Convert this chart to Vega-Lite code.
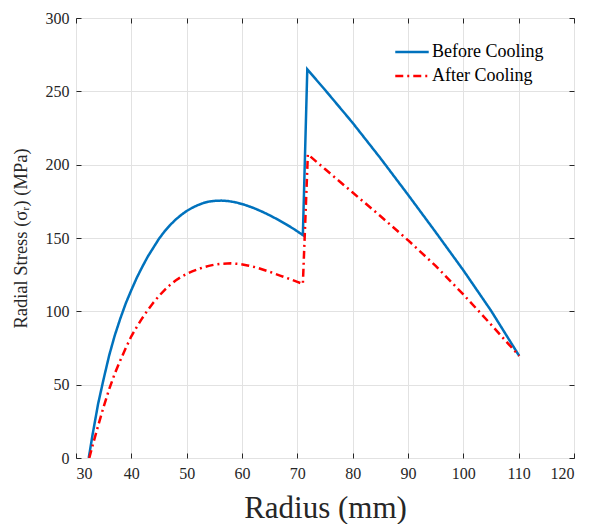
{
  "$schema": "https://vega.github.io/schema/vega-lite/v6.json",
  "autosize": {"type": "none"},
  "padding": {"left": 76, "top": 18, "right": 18, "bottom": 66},
  "width": 498,
  "height": 440,
  "background": "white",
  "config": {
    "font": "Liberation Serif",
    "view": {"stroke": "#262626", "strokeWidth": 1},
    "axis": {
      "labelFont": "Liberation Serif",
      "titleFont": "Liberation Serif",
      "labelColor": "#262626",
      "titleColor": "#262626",
      "labelFontSize": 16,
      "domain": false,
      "tickColor": "#262626",
      "tickSize": -5,
      "gridColor": "#e2e2e2",
      "gridWidth": 1,
      "titleFontWeight": "normal"
    }
  },
  "data": {
    "values": [
      {"r": 32.3, "s": 0, "series": "Before Cooling"},
      {"r": 33, "s": 16, "series": "Before Cooling"},
      {"r": 34, "s": 37, "series": "Before Cooling"},
      {"r": 35, "s": 54, "series": "Before Cooling"},
      {"r": 36, "s": 70, "series": "Before Cooling"},
      {"r": 37, "s": 83.5, "series": "Before Cooling"},
      {"r": 38, "s": 95, "series": "Before Cooling"},
      {"r": 39, "s": 105.5, "series": "Before Cooling"},
      {"r": 40, "s": 114.5, "series": "Before Cooling"},
      {"r": 41, "s": 123, "series": "Before Cooling"},
      {"r": 42, "s": 130.5, "series": "Before Cooling"},
      {"r": 43, "s": 137.5, "series": "Before Cooling"},
      {"r": 44, "s": 143.5, "series": "Before Cooling"},
      {"r": 45, "s": 149.5, "series": "Before Cooling"},
      {"r": 46, "s": 154.5, "series": "Before Cooling"},
      {"r": 47, "s": 158.8, "series": "Before Cooling"},
      {"r": 48, "s": 162.5, "series": "Before Cooling"},
      {"r": 49, "s": 165.7, "series": "Before Cooling"},
      {"r": 50, "s": 168.4, "series": "Before Cooling"},
      {"r": 51, "s": 170.6, "series": "Before Cooling"},
      {"r": 52, "s": 172.4, "series": "Before Cooling"},
      {"r": 53, "s": 173.8, "series": "Before Cooling"},
      {"r": 54, "s": 174.8, "series": "Before Cooling"},
      {"r": 55, "s": 175.3, "series": "Before Cooling"},
      {"r": 56.3, "s": 175.5, "series": "Before Cooling"},
      {"r": 57.5, "s": 175.2, "series": "Before Cooling"},
      {"r": 59, "s": 174.2, "series": "Before Cooling"},
      {"r": 60.5, "s": 172.6, "series": "Before Cooling"},
      {"r": 62, "s": 170.6, "series": "Before Cooling"},
      {"r": 63.5, "s": 168.2, "series": "Before Cooling"},
      {"r": 65, "s": 165.5, "series": "Before Cooling"},
      {"r": 66.5, "s": 162.5, "series": "Before Cooling"},
      {"r": 68, "s": 159.3, "series": "Before Cooling"},
      {"r": 69.5, "s": 155.8, "series": "Before Cooling"},
      {"r": 71.0, "s": 152, "series": "Before Cooling"},
      {"r": 71.8, "s": 265, "series": "Before Cooling"},
      {"r": 75, "s": 251, "series": "Before Cooling"},
      {"r": 80, "s": 228.5, "series": "Before Cooling"},
      {"r": 85, "s": 204.5, "series": "Before Cooling"},
      {"r": 90, "s": 179.5, "series": "Before Cooling"},
      {"r": 95, "s": 154, "series": "Before Cooling"},
      {"r": 100, "s": 128, "series": "Before Cooling"},
      {"r": 105, "s": 100.5, "series": "Before Cooling"},
      {"r": 110.1, "s": 69.6, "series": "Before Cooling"},
      {"r": 32.4, "s": 0, "series": "After Cooling"},
      {"r": 33, "s": 8.5, "series": "After Cooling"},
      {"r": 34, "s": 22, "series": "After Cooling"},
      {"r": 35, "s": 35, "series": "After Cooling"},
      {"r": 36, "s": 47, "series": "After Cooling"},
      {"r": 37, "s": 57.5, "series": "After Cooling"},
      {"r": 38, "s": 66.5, "series": "After Cooling"},
      {"r": 39, "s": 75, "series": "After Cooling"},
      {"r": 40, "s": 83, "series": "After Cooling"},
      {"r": 41, "s": 89.5, "series": "After Cooling"},
      {"r": 42, "s": 95.5, "series": "After Cooling"},
      {"r": 43, "s": 101, "series": "After Cooling"},
      {"r": 44, "s": 106, "series": "After Cooling"},
      {"r": 45, "s": 110.5, "series": "After Cooling"},
      {"r": 46, "s": 114.5, "series": "After Cooling"},
      {"r": 47, "s": 118, "series": "After Cooling"},
      {"r": 48, "s": 121, "series": "After Cooling"},
      {"r": 49, "s": 123.5, "series": "After Cooling"},
      {"r": 50, "s": 125.5, "series": "After Cooling"},
      {"r": 51, "s": 127.2, "series": "After Cooling"},
      {"r": 52, "s": 128.7, "series": "After Cooling"},
      {"r": 53, "s": 130, "series": "After Cooling"},
      {"r": 54, "s": 131, "series": "After Cooling"},
      {"r": 55, "s": 131.8, "series": "After Cooling"},
      {"r": 56.5, "s": 132.5, "series": "After Cooling"},
      {"r": 58, "s": 132.7, "series": "After Cooling"},
      {"r": 59.5, "s": 132.3, "series": "After Cooling"},
      {"r": 61, "s": 131.3, "series": "After Cooling"},
      {"r": 62.5, "s": 130, "series": "After Cooling"},
      {"r": 64, "s": 128.2, "series": "After Cooling"},
      {"r": 65.5, "s": 126.3, "series": "After Cooling"},
      {"r": 67, "s": 124.2, "series": "After Cooling"},
      {"r": 68.5, "s": 122.2, "series": "After Cooling"},
      {"r": 70, "s": 120.1, "series": "After Cooling"},
      {"r": 71.0, "s": 118.6, "series": "After Cooling"},
      {"r": 71.9, "s": 207, "series": "After Cooling"},
      {"r": 75, "s": 197, "series": "After Cooling"},
      {"r": 80, "s": 181, "series": "After Cooling"},
      {"r": 85, "s": 165, "series": "After Cooling"},
      {"r": 90, "s": 148.5, "series": "After Cooling"},
      {"r": 95, "s": 131, "series": "After Cooling"},
      {"r": 100, "s": 111.5, "series": "After Cooling"},
      {"r": 105, "s": 91, "series": "After Cooling"},
      {"r": 110.1, "s": 69.6, "series": "After Cooling"}
    ]
  },
  "resolve": {"axis": {"x": "independent", "y": "independent"}},
  "layer": [
    {
      "mark": {"type": "line", "strokeWidth": 2.5, "clip": true},
      "encoding": {
        "x": {
          "field": "r", "type": "quantitative",
          "scale": {"domain": [30, 120], "nice": false, "zero": false},
          "axis": {"values": [30,40,50,60,70,80,90,100,110,120], "title": "Radius (mm)", "titleFontSize": 31, "labelPadding": 12, "titlePadding": 12}
        },
        "y": {
          "field": "s", "type": "quantitative",
          "scale": {"domain": [0, 300], "nice": false},
          "axis": {"values": [0,50,100,150,200,250,300], "title": "Radial Stress (σᵣ) (MPa)", "titleFontSize": 18.5, "labelPadding": 12, "titlePadding": 15}
        },
        "color": {
          "field": "series", "type": "nominal",
          "scale": {"domain": ["Before Cooling", "After Cooling"], "range": ["#0072BD", "#FF0000"]},
          "legend": {
            "title": null, "orient": "none", "legendX": 326, "legendY": 24,
            "symbolType": "M-2,0H2", "symbolSize": 280, "symbolStrokeWidth": 2.5, "symbolFillColor": "transparent",
            "labelFont": "Liberation Serif", "labelFontSize": 18, "labelColor": "#000000",
            "rowPadding": 5, "labelOffset": 10, "padding": 0
          }
        },
        "strokeDash": {
          "field": "series", "type": "nominal",
          "scale": {"domain": ["Before Cooling", "After Cooling"], "range": [[1, 0], [8, 4, 2, 4]]},
          "legend": null
        }
      }
    },
    {
      "mark": {"type": "point", "opacity": 0},
      "encoding": {
        "x": {
          "field": "r", "type": "quantitative",
          "scale": {"domain": [30, 120], "nice": false, "zero": false},
          "axis": {"orient": "top", "values": [30,40,50,60,70,80,90,100,110,120], "labels": false, "grid": false, "title": null}
        },
        "y": {
          "field": "s", "type": "quantitative",
          "scale": {"domain": [0, 300], "nice": false},
          "axis": {"orient": "right", "values": [0,50,100,150,200,250,300], "labels": false, "grid": false, "title": null}
        }
      }
    }
  ]
}
